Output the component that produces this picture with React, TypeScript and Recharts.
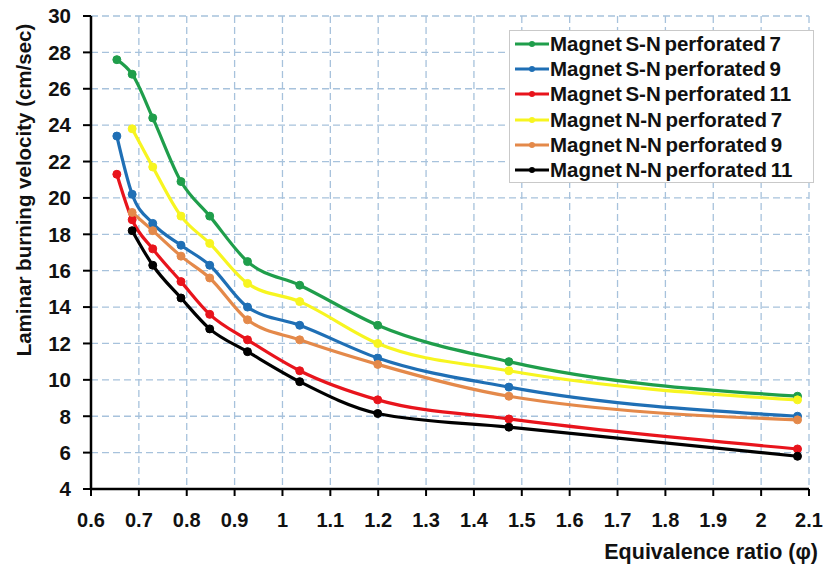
import { LineChart, Line, XAxis, YAxis, CartesianGrid } from 'recharts';

const phi = [0.654, 0.686, 0.729, 0.788, 0.848, 0.927, 1.036, 1.199, 1.473, 2.076];
const snPerf7 = [27.6, 26.8, 24.4, 20.9, 19.0, 16.5, 15.2, 13.0, 11.0, 9.1];
const snPerf9 = [23.4, 20.2, 18.6, 17.4, 16.3, 14.0, 13.0, 11.2, 9.6, 8.0];
const snPerf11 = [21.3, 18.8, 17.2, 15.4, 13.6, 12.2, 10.5, 8.9, 7.85, 6.2];
const nnPerf7 = [null, 23.8, 21.7, 19.0, 17.5, 15.3, 14.3, 12.0, 10.5, 8.9];
const nnPerf9 = [null, 19.2, 18.2, 16.8, 15.6, 13.3, 12.2, 10.85, 9.1, 7.8];
const nnPerf11 = [null, 18.2, 16.3, 14.5, 12.8, 11.55, 9.9, 8.15, 7.4, 5.8];

const xTicks = [0.6, 0.7, 0.8, 0.9, 1.0, 1.1, 1.2, 1.3, 1.4, 1.5, 1.6, 1.7, 1.8, 1.9, 2.0, 2.1];
const yTicks = [4, 6, 8, 10, 12, 14, 16, 18, 20, 22, 24, 26, 28, 30];

const series = [
  { key: 'snPerf7', name: 'Magnet S-N perforated 7', color: '#1f9e4b', values: snPerf7 },
  { key: 'snPerf9', name: 'Magnet S-N perforated 9', color: '#1f6fb5', values: snPerf9 },
  { key: 'snPerf11', name: 'Magnet S-N perforated 11', color: '#e8141c', values: snPerf11 },
  { key: 'nnPerf7', name: 'Magnet N-N perforated 7', color: '#f7f520', values: nnPerf7 },
  { key: 'nnPerf9', name: 'Magnet N-N perforated 9', color: '#e4894a', values: nnPerf9 },
  { key: 'nnPerf11', name: 'Magnet N-N perforated 11', color: '#000000', values: nnPerf11 },
];

const data = phi.map((x, i) => {
  const row: Record<string, number | null> = { phi: x };
  series.forEach((s) => {
    row[s.key] = s.values[i];
  });
  return row;
});

const FONT = '"Liberation Sans", Arial, sans-serif';

const fmtX = (v: number) => String(Number(v.toFixed(1)));

function ChartLegend() {
  return (
    <div
      style={{
        position: 'absolute',
        left: 509,
        top: 30,
        width: 305,
        height: 153,
        boxSizing: 'border-box',
        background: '#fff',
        border: '1px solid #c9c9c9',
        padding: '0 0 0 5px',
        fontFamily: FONT,
        fontWeight: 700,
        fontSize: 20.5,
        color: '#111',
      }}
    >
      {series.map((s) => (
        <div key={s.key} style={{ display: 'flex', alignItems: 'center', height: 25.3 }}>
          <svg width={34} height={12} style={{ marginRight: 1, flex: 'none' }}>
            <line x1={0} y1={6} x2={34} y2={6} stroke={s.color} strokeWidth={3} />
            <circle cx={17} cy={6} r={3} fill={s.color} />
          </svg>
          <span style={{ whiteSpace: 'nowrap', wordSpacing: -2 }}>{s.name}</span>
        </div>
      ))}
    </div>
  );
}

export default function App() {
  return (
    <div style={{ position: 'absolute', left: 0, top: 0, width: 829, height: 564, background: '#fff' }}>
      <LineChart
        width={829}
        height={564}
        data={data}
        margin={{ top: 16, right: 20, bottom: 0, left: 0 }}
      >
        <CartesianGrid stroke="#a7c2dc" strokeDasharray="7 4" strokeWidth={1.3} />
        <XAxis
          type="number"
          dataKey="phi"
          domain={[0.6, 2.1]}
          ticks={xTicks}
          tickFormatter={fmtX}
          height={75}
          axisLine={{ stroke: '#000', strokeWidth: 2.5 }}
          tickLine={{ stroke: '#000', strokeWidth: 2 }}
          tickSize={7}
          tickMargin={17}
          tick={{ fill: '#111', fontSize: 20, fontWeight: 700, fontFamily: FONT }}
          interval={0}
          allowDataOverflow
        />
        <YAxis
          type="number"
          domain={[4, 30]}
          ticks={yTicks}
          width={91}
          axisLine={{ stroke: '#000', strokeWidth: 2.5 }}
          tickLine={{ stroke: '#000', strokeWidth: 2 }}
          tickSize={8}
          tickMargin={12}
          tick={{ fill: '#111', fontSize: 20.5, fontWeight: 700, fontFamily: FONT }}
          interval={0}
        />
        {series.map((s) => (
          <Line
            key={s.key}
            type="monotone"
            dataKey={s.key}
            name={s.name}
            stroke={s.color}
            strokeWidth={3.2}
            dot={{ r: 4, fill: s.color, stroke: s.color, strokeWidth: 1 }}
            activeDot={false}
            isAnimationActive={false}
          />
        ))}
        <text
          x={23}
          y={190}
          transform="rotate(-90, 23, 190)"
          textAnchor="middle"
          dominantBaseline="central"
          fontFamily={FONT}
          fontWeight={700}
          fontSize={20.5}
          fill="#111"
        >
          Laminar burning velocity (cm/sec)
        </text>
        <text
          x={818}
          y={559}
          textAnchor="end"
          fontFamily={FONT}
          fontWeight={700}
          fontSize={21.5}
          fill="#111"
        >
          Equivalence ratio (φ)
        </text>
      </LineChart>
      <ChartLegend />
    </div>
  );
}
